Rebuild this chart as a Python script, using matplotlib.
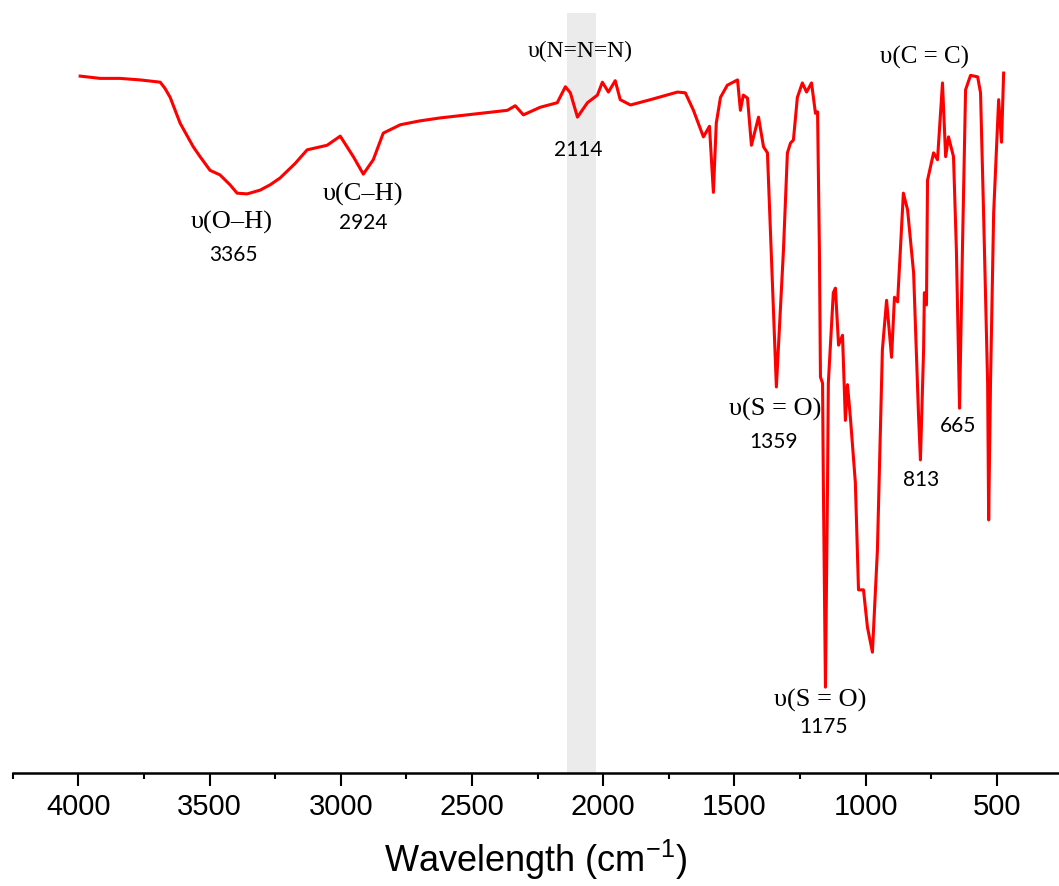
import numpy as np
import matplotlib
matplotlib.use('Agg')
import matplotlib.pyplot as plt

# IR spectrum (wavenumber in cm-1, transmittance in %)
wavenumber = [
    3993, 3917, 3841, 3765, 3688, 3670, 3650, 3631, 3612, 3586, 3562, 3536,
    3498, 3460, 3422, 3395, 3357, 3307, 3269, 3231, 3174, 3128, 3052, 3002,
    2952, 2914, 2876, 2838, 2773, 2700, 2621, 2468, 2365,
    2335, 2304, 2240, 2175, 2144, 2125, 2098, 2060, 2022, 2003, 1980, 1954,
    1935, 1896, 1820, 1717, 1687, 1656, 1618, 1595, 1580, 1569, 1553, 1527,
    1488, 1477, 1466, 1450, 1435, 1408, 1389, 1374, 1340, 1313, 1298, 1286,
    1275, 1260, 1241, 1225, 1206, 1191, 1183, 1176, 1172, 1164, 1161, 1153,
    1145, 1142, 1123, 1115, 1103, 1088, 1077, 1069, 1058, 1039, 1027, 1008,
    993, 974, 955, 936, 920, 901, 890, 878, 856, 840, 817, 798, 791, 779,
    776, 768, 764, 741, 726, 707, 695, 684, 665, 654, 642, 631, 619, 600,
    573, 562, 551, 535, 531, 524, 512, 493, 482, 474,
]
transmittance = [
    91.7, 91.4, 91.4, 91.2, 90.9, 90.1, 88.9, 87.2, 85.5, 83.9, 82.4, 81.1,
    79.3, 78.7, 77.4, 76.3, 76.2, 76.7, 77.4, 78.3, 80.2, 82.0, 82.6, 83.8,
    81.1, 78.8, 80.7, 84.2, 85.3, 85.8, 86.2, 86.8, 87.2,
    87.8, 86.6, 87.6, 88.2, 90.3, 89.5, 86.3, 88.2, 89.2, 90.9, 89.6, 91.1,
    88.6, 87.9, 88.6, 89.6, 89.5, 87.2, 83.7, 85.1, 76.4, 85.5, 88.9, 90.5,
    91.2, 87.2, 89.2, 88.8, 82.6, 86.3, 82.4, 81.6, 50.8, 68.8, 81.6, 82.9,
    83.3, 88.9, 90.8, 89.6, 90.8, 86.8, 87.0, 68.8, 52.1, 51.3, 38.2, 11.3,
    38.2, 51.3, 63.2, 63.8, 56.3, 57.6, 46.4, 51.1, 46.8, 38.2, 24.1, 24.1,
    19.2, 15.9, 29.3, 55.7, 62.2, 54.7, 62.6, 62.0, 76.3, 74.1, 65.8, 46.8,
    41.2, 55.7, 63.2, 61.6, 78.0, 81.6, 80.7, 90.8, 81.1, 83.7, 81.1, 68.8,
    48.0, 68.8, 89.9, 91.8, 91.6, 89.5, 74.5, 51.3, 33.3, 51.3, 73.7, 88.6,
    83.0, 92.1,
]

# shaded azide region
band = (2028, 2138)

# peak labels: (text, x, y, font size, font)
labels = [
    ('υ(O–H)', 3414, 72.5, 19, 'serif'),
    ('3365', 3410, 68.2, 15, 'num'),
    ('υ(C–H)', 2915, 76.1, 19, 'serif'),
    ('2924', 2915, 72.4, 15, 'num'),
    ('υ(N=N=N)', 2088, 94.9, 17, 'serif'),
    ('2114', 2096, 82.0, 15, 'num'),
    ('υ(S = O)', 1345, 47.8, 19, 'serif'),
    ('1359', 1349, 43.6, 15, 'num'),
    ('υ(S = O)', 1174, 9.6, 19, 'serif'),
    ('1175', 1162, 6.1, 15, 'num'),
    ('813', 788, 38.6, 15, 'num'),
    ('665', 647, 45.7, 15, 'num'),
    ('υ(C = C)', 777, 94.2, 18, 'serif'),
]

plt.rcParams['font.family'] = ['Liberation Sans', 'DejaVu Sans']

fig = plt.figure(figsize=(10.59, 8.86), dpi=100)
ax = fig.add_axes([0.012, 0.1275, 0.988, 0.8578])

ax.axvspan(band[0], band[1], color='#ebebeb', lw=0, zorder=0)
ax.plot(wavenumber, transmittance, color='#ff0000', lw=2.2, zorder=2)

for text, x, y, size, kind in labels:
    if kind == 'serif':
        fam = ['Liberation Serif', 'DejaVu Serif']
    else:
        fam = ['Lato', 'DejaVu Sans']
    ax.text(x, y, text, ha='center', va='center', fontsize=size, family=fam)

ax.set_xlim(4250, 263)
ax.set_ylim(0, 100)

for side in ['top', 'left', 'right']:
    ax.spines[side].set_visible(False)
ax.spines['bottom'].set_linewidth(1.8)
ax.set_yticks([])

ax.set_xticks(np.arange(500, 4001, 500))
ax.set_xticks(np.arange(750, 4251, 500), minor=True)
ax.tick_params(axis='x', which='major', length=9.5, width=1.5,
               labelsize=21, pad=5)
ax.tick_params(axis='x', which='minor', length=4.5, width=1.5)

ax.set_xlabel('Wavelength (cm$^{\\mathregular{-1}}$)', fontsize=26, labelpad=12)

plt.savefig('out.png', dpi=100)
